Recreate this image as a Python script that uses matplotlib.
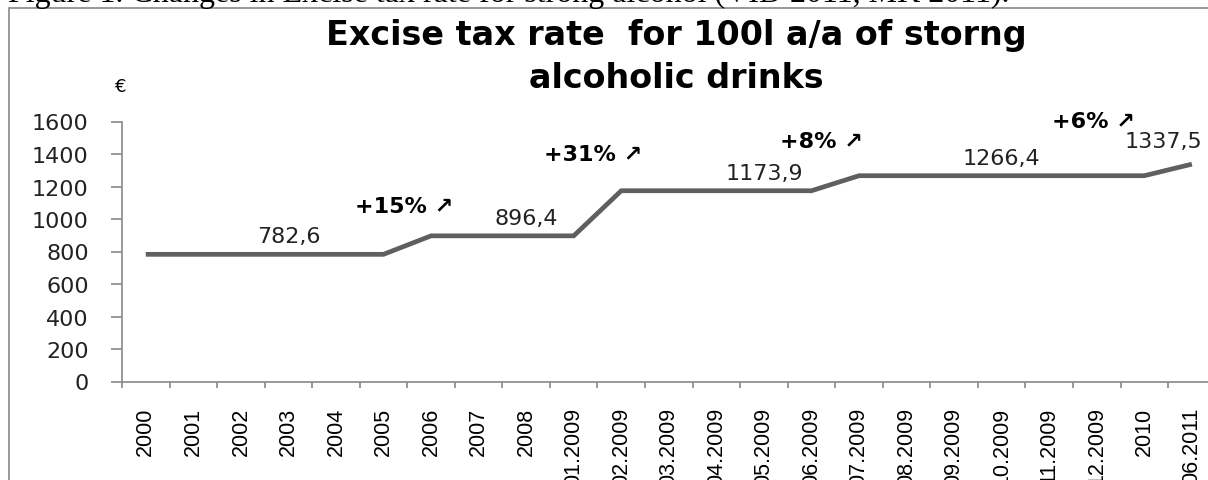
"""Excise tax rate for 100 l a/a of strong alcoholic drinks - step line chart."""
import matplotlib
import matplotlib.pyplot as plt
import numpy as np
from matplotlib.patches import Rectangle

matplotlib.use("Agg")

# データ
periods = [
    "2000", "2001", "2002", "2003", "2004", "2005", "2006", "2007", "2008",
    "01.2009", "02.2009", "03.2009", "04.2009", "05.2009", "06.2009",
    "07.2009", "08.2009", "09.2009", "10.2009", "11.2009", "12.2009",
    "2010", "06.2011",
]
rates = [
    782.6, 782.6, 782.6, 782.6, 782.6, 782.6,
    896.4, 896.4, 896.4, 896.4,
    1173.9, 1173.9, 1173.9, 1173.9, 1173.9,
    1266.4, 1266.4, 1266.4, 1266.4, 1266.4, 1266.4, 1266.4,
    1337.5,
]
label_idx = [3, 8, 13, 18, 22]
increase_texts = ["+15% \u2197", "+31% \u2197", "+8% \u2197", "+6% \u2197"]

W, H = 1208, 481
GRAY = "#888888"


def fx(px):
    return px / W


def fy(py):
    return 1 - py / H


fig = plt.figure(figsize=(W / 100, H / 100), dpi=100)
fig.patch.set_facecolor("white")

# 上に切れて残っている図のキャプション
fig.text(fx(8), fy(2), "Figure 1. Changes in Excise tax rate for strong alcohol (VID 2011, MK 2011).",
         family="Liberation Serif", fontsize=23, va="baseline", ha="left", color="black")

# グラフ枠(右と下は画像外まで続く)
fig.add_artist(Rectangle((fx(9), -0.2), 1.2, fy(8.5) + 0.2, transform=fig.transFigure,
                         facecolor="none", edgecolor=GRAY, linewidth=1.2, clip_on=False))

step = 47.55
ax = fig.add_axes([fx(122), fy(382.5), fx(len(periods) * step), 260 / H])
x = np.arange(len(periods))
ax.plot(x, rates, color="#5f5f5f", linewidth=3.4, solid_capstyle="butt", solid_joinstyle="miter")

ax.set_xlim(-0.5, len(periods) - 0.5)
ax.set_ylim(0, 1600)
for side in ("top", "right"):
    ax.spines[side].set_visible(False)
for side in ("left", "bottom"):
    ax.spines[side].set_color(GRAY)
    ax.spines[side].set_linewidth(1.2)

# Excel風: 目盛線はカテゴリの境目、ラベルはカテゴリの中央
ax.set_xticks(np.arange(-0.5, len(periods), 1))
ax.set_xticklabels([])
ax.set_xticks(x, minor=True)
ax.set_xticklabels(periods, minor=True, rotation=90, family="Liberation Sans", fontsize=15.5, va="top")
ax.tick_params(axis="x", which="major", length=4.5, width=1.2, color=GRAY, direction="out")
ax.tick_params(axis="x", which="minor", length=0, pad=18)

ax.set_yticks(np.arange(0, 1601, 200))
ax.tick_params(axis="y", length=8, width=1.2, color=GRAY, pad=16, labelsize=16, labelcolor="#222222")

for i in label_idx:
    dx = -28 if i == len(periods) - 1 else 0
    dy = 17 if i == len(periods) - 1 else 12
    ax.annotate(f"{rates[i]:.1f}".replace(".", ","), (x[i], rates[i]), xytext=(dx, dy),
                textcoords="offset pixels", ha="center", va="baseline",
                fontsize=16, color="#222222")

# 上昇率の注記の位置(データ座標)
inc_pos = [(5.43, 1083), (9.41, 1397), (14.22, 1483), (19.94, 1600)]
for (px, py), txt in zip(inc_pos, increase_texts):
    ax.text(px, py, txt, ha="center", va="center", fontsize=16, fontweight="bold",
            color="black", clip_on=False)

fig.text(fx(121), fy(87), "\u20ac", ha="center", va="center", fontsize=13, color="black")

fig.text(fx(676), fy(57), "Excise tax rate  for 100l a/a of storng\nalcoholic drinks",
         ha="center", va="center", fontsize=24, fontweight="bold", linespacing=1.4,
         color="black")

fig.savefig("out.png", dpi=100)
